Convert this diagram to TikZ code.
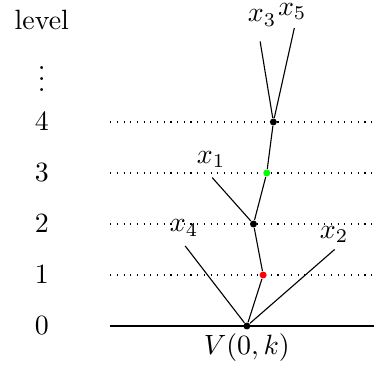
\documentclass[tikz,border=0pt]{standalone}
\usepackage{amsmath}
\usepackage{tikz}
\usetikzlibrary{positioning}

\tikzset{
  vdot/.style={circle, fill=#1, inner sep=0pt, minimum size=2.5pt},
  vdot/.default=black,
  levline/.style={dotted},
}

\begin{document}
\begin{tikzpicture}[scale = 0.643]
  \useasboundingbox (0,-0.765) rectangle (7.333,6.392);

  % livelli
  \node (lev) at (0.82,6) {level};
  \node (levdots) at (0.82,5) {$\vdots$};
  \foreach \i in {0,...,4} {
    \node (l\i) at (0.82,\i) {$\i$};
  }
  \foreach \i in {1,...,4} {
    \coordinate (ls\i) at (2.16,\i);
    \coordinate (le\i) at (7.333,\i);
    \draw[levline] (ls\i) -- (le\i);
  }
  \coordinate (ls0) at (2.16,0);
  \coordinate (le0) at (7.333,0);
  \draw (ls0) -- (le0);

  % vertici
  \node [vdot] (root) at (4.84,0) {};
  \node [vdot=red] (v1) at (5.16,1) {};
  \node [vdot] (v2) at (4.97,2) {};
  \node [vdot=green] (v3) at (5.23,3) {};
  \node [vdot] (v4) at (5.36,4) {};

  % estremi liberi
  \coordinate (e3) at (5.10,5.58);
  \coordinate (e5) at (5.77,5.84);
  \coordinate (e1) at (4.16,2.91);
  \coordinate (e4) at (3.63,1.57);
  \coordinate (e2) at (6.56,1.50);

  \node (x3) at (5.14,6.04) {$x_3$};
  \node (x5) at (5.73,6.16) {$x_5$};
  \node (x1) at (4.14,3.26) {$x_1$};
  \node (x4) at (3.61,1.92) {$x_4$};
  \node (x2) at (6.55,1.80) {$x_2$};
  \node (vlab) at (4.84,-0.42) {$V(0,k)$};

  \draw (root) -- (v1) -- (v2) -- (v3) -- (v4);
  \draw (v4) -- (e3) (v4) -- (e5) (v2) -- (e1);
  \draw (root) -- (e4) (root) -- (e2);
\end{tikzpicture}
\end{document}
